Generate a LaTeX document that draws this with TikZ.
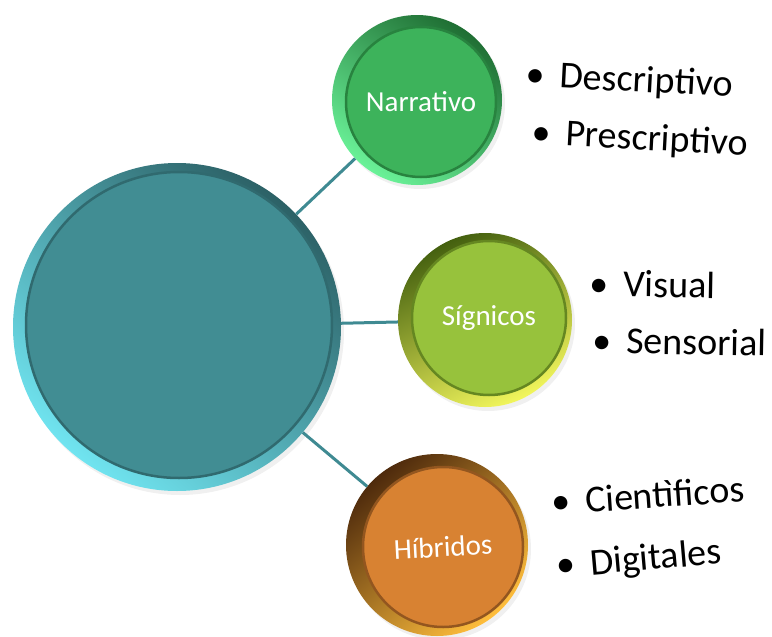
\documentclass[tikz,border=0pt]{standalone}
\usepackage{fontspec}
\setmainfont{Carlito}
\usetikzlibrary{shadows}

\definecolor{tealmain}{HTML}{418D93}
\definecolor{tealdark}{HTML}{2C6166}
\definecolor{teallight}{HTML}{70E4F0}
\definecolor{greenmain}{HTML}{3DB35B}
\definecolor{greendark}{HTML}{1F6E33}
\definecolor{greenlight}{HTML}{6AF298}
\definecolor{limemain}{HTML}{97C23C}
\definecolor{limedark}{HTML}{44600F}
\definecolor{limelight}{HTML}{F2F65C}
\definecolor{orangemain}{HTML}{D88232}
\definecolor{orangedark}{HTML}{4E2A0C}
\definecolor{orangelight}{HTML}{FFBE3C}
\definecolor{linkteal}{HTML}{3F8A92}

\newcommand{\bigdot}{\textbullet\hspace{0.4em}}

\tikzset{
  rim/.style={circle, inner sep=0pt, drop shadow={opacity=0.12, shadow xshift=3pt, shadow yshift=-4pt}},
  face/.style={circle, inner sep=0pt, line width=2.5pt, text=white, font=\fontsize{29}{31}\selectfont},
  link/.style={linkteal, line width=3pt},
  item/.style={anchor=base west, inner sep=0pt, font=\fontsize{38}{40}\selectfont},
}

\begin{document}
\begin{tikzpicture}[x=1pt, y=-1pt]
\useasboundingbox (0,0) rectangle (772,637);

% main circle
\node[rim, minimum size=328, top color=tealdark, bottom color=teallight, shading angle=-40] (main) at (177,327) {};
\node[face, minimum size=306, fill=tealmain, draw=tealdark!80!tealmain] (mainface) at (179,325) {};

% Narrativo
\node[rim, minimum size=170, top color=greendark, bottom color=greenlight, shading angle=-35] (narr) at (417,100) {};
\node[face, minimum size=150, fill=greenmain, draw=greendark!70!greenmain] at (421,102) {Narrativo};

% Signicos
\node[rim, minimum size=174, top color=limedark, bottom color=limelight, shading angle=25] (sign) at (485,320) {};
\node[face, minimum size=154, fill=limemain, draw=limedark!60!limemain] at (489,318) {Sígnicos};

% Hibridos
\node[rim, minimum size=182, top color=orangedark, bottom color=orangelight, shading angle=40] (hib) at (437,545) {};
\node[face, minimum size=160, fill=orangemain, draw=orangedark!50!orangemain, rotate=3] at (443,547) {Híbridos};

% connectors
\draw[link] (main) -- (narr);
\draw[link] (main) -- (sign);
\draw[link] (main) -- (hib);

% lists
\node[item, rotate=-3] (desc) at (525,86) {\bigdot Descriptivo};
\node[item, rotate=-3] (pres) at (531,144) {\bigdot Prescriptivo};
\node[item, rotate=-1] (vis) at (589,296) {\bigdot Visual};
\node[item, rotate=-1] (sens) at (592,353) {\bigdot Sensorial};
\node[item, rotate=4] (cien) at (552,515) {\bigdot Cientìficos};
\node[item, rotate=5] (dig) at (557,578) {\bigdot Digitales};
\end{tikzpicture}
\end{document}
